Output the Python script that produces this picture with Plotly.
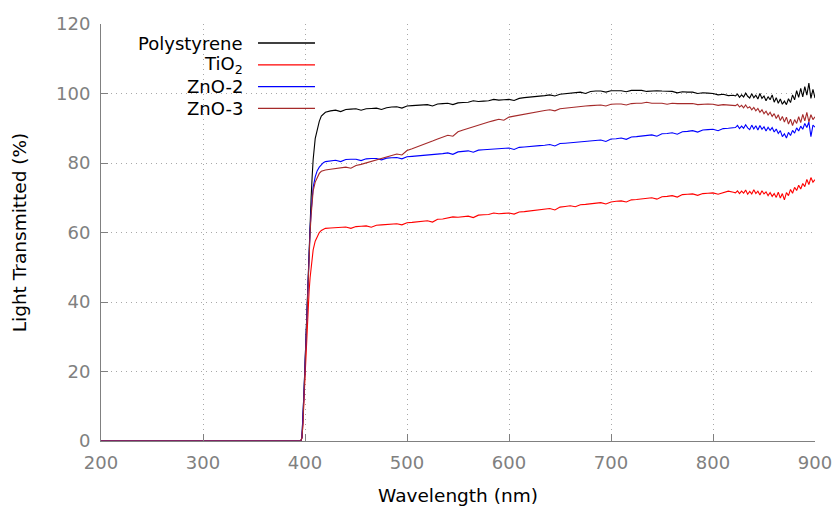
import plotly.graph_objects as go

# Wavelength sampling (nm): flat UV region, absorption edge, visible plateau, noisy red end
wl_uv = [200, 300, 390, 396]
wl_edge = [397, 398, 399, 400, 401, 402, 403, 404, 405, 406, 407, 408,
           410, 412, 414, 416, 418, 420, 425]
wl_mid = list(range(430, 821, 5))
wl_end = list(range(822, 901, 2))
wavelength = wl_uv + wl_edge + wl_mid + wl_end

polystyrene = (
    [0, 0, 0, 0]
    + [1, 6, 14, 22, 31, 40, 48, 56, 63, 70, 76, 81,
       87, 90, 92, 93.5, 94.2, 94.6, 95.0]
    + [95.2, 94.8, 95.4, 95.5, 95.6, 95.2, 95.6, 95.7, 95.8, 95.4,
       95.9, 96.1, 96.2, 95.8, 96.4, 96.5, 96.6, 96.7, 96.8, 96.4,
       97.0, 97.1, 97.2, 96.8, 97.3, 97.4, 97.5, 97.9, 97.7, 97.8,
       97.9, 98.3, 98.1, 98.2, 98.3, 98.0, 98.6, 98.8, 98.9, 99.0,
       99.2, 99.4, 99.6, 99.3, 99.8, 100.0, 100.1, 100.3, 100.4, 100.0,
       100.6, 100.7, 100.7, 100.4, 100.8, 100.8, 100.8, 100.5, 100.9, 100.9,
       100.9, 100.6, 100.8, 100.8, 100.7, 100.7, 100.6, 100.2, 100.5, 100.4,
       100.4, 100.0, 100.2, 100.1, 100.0, 99.6, 99.8, 99.4, 99.5]
    + [99.3, 99.8, 98.9, 99.6, 99.0, 100.1, 99.2, 98.7, 99.9, 98.8,
       99.5, 98.4, 100.0, 98.6, 99.3, 97.9, 99.1, 98.2, 99.6, 97.5,
       98.8, 97.2, 98.4, 96.9, 97.8, 96.8, 98.5, 97.4, 99.6, 98.2,
       100.8, 98.9, 101.5, 99.0, 102.0, 99.5, 103.0, 98.6, 101.2, 98.7]
)

tio2 = (
    [0, 0, 0, 0]
    + [1, 5, 12, 19, 26, 32, 38, 43, 47, 50.5, 53, 55,
       57.5, 59, 60, 60.6, 61.0, 61.2, 61.3]
    + [61.4, 61.5, 61.6, 61.2, 61.7, 61.8, 61.9, 61.5, 62.1, 62.2,
       62.3, 62.4, 62.5, 62.2, 62.8, 62.9, 63.1, 63.2, 63.4, 63.0,
       63.8, 63.9, 64.1, 64.5, 64.4, 64.5, 64.7, 64.3, 65.0, 65.1,
       65.2, 65.6, 65.4, 65.5, 65.6, 65.3, 65.9, 66.0, 66.2, 66.4,
       66.6, 66.7, 66.9, 66.5, 67.3, 67.5, 67.7, 67.4, 68.0, 68.1,
       68.3, 68.4, 68.6, 68.2, 68.8, 69.0, 69.1, 68.8, 69.4, 69.5,
       69.7, 69.8, 70.0, 69.6, 70.3, 70.4, 70.6, 70.2, 70.9, 71.0,
       71.1, 70.7, 71.2, 71.3, 71.4, 71.0, 71.5, 71.9, 71.6]
    + [71.4, 72.0, 71.2, 71.9, 71.3, 72.2, 71.0, 71.8, 71.1, 72.3,
       71.2, 71.9, 70.8, 72.0, 71.1, 71.7, 70.6, 71.5, 70.4, 71.2,
       70.1, 71.6, 69.9, 71.2, 69.4, 71.5, 70.6, 72.4, 71.3, 73.0,
       72.1, 73.6, 72.5, 74.1, 73.2, 75.3, 73.8, 75.8, 74.5, 75.2]
)

zno2 = (
    [0, 0, 0, 0]
    + [1, 6, 14, 22, 31, 40, 48, 55, 61, 66, 70, 73,
       76, 77.8, 78.8, 79.6, 80.1, 80.4, 80.6]
    + [80.8, 80.4, 81.0, 81.1, 81.1, 80.7, 81.2, 81.3, 81.3, 80.9,
       81.4, 81.5, 81.6, 81.2, 81.8, 81.9, 82.0, 82.1, 82.3, 82.4,
       82.6, 82.7, 82.9, 82.5, 83.2, 83.3, 83.5, 83.1, 83.7, 83.8,
       83.9, 84.0, 84.1, 84.2, 84.3, 83.9, 84.5, 84.6, 84.8, 84.9,
       85.0, 85.1, 85.3, 84.9, 85.6, 85.7, 85.8, 86.0, 86.1, 86.2,
       86.4, 86.5, 86.6, 86.2, 86.9, 87.0, 87.2, 86.8, 87.5, 87.6,
       87.8, 87.9, 88.1, 87.7, 88.4, 88.5, 88.7, 88.3, 89.0, 89.1,
       89.3, 88.9, 89.5, 89.6, 89.7, 89.3, 89.9, 90.0, 90.1]
    + [90.2, 90.8, 89.9, 90.6, 90.0, 91.0, 90.1, 89.6, 90.9, 89.8,
       90.7, 89.5, 90.8, 89.7, 90.4, 89.2, 90.3, 89.4, 90.2, 88.9,
       89.8, 88.5, 89.3, 87.6, 88.4, 87.2, 88.8, 87.9, 89.4, 88.6,
       90.1, 89.2, 90.6, 89.7, 91.4, 90.2, 91.8, 87.6, 90.9, 90.3]
)

zno3 = (
    [0, 0, 0, 0]
    + [1, 5, 13, 21, 30, 39, 47, 54, 60, 65, 69, 72,
       74.5, 76, 77, 77.6, 77.9, 78.0, 78.2]
    + [78.4, 78.6, 78.8, 78.5, 79.3, 79.6, 80.0, 80.4, 80.8, 81.2,
       81.6, 82.1, 82.6, 82.3, 83.6, 84.1, 84.6, 85.2, 85.8, 86.3,
       86.9, 87.5, 88.0, 87.7, 89.0, 89.5, 90.0, 90.4, 90.9, 91.4,
       91.8, 92.2, 92.6, 92.3, 93.2, 93.5, 93.8, 94.1, 94.4, 94.7,
       94.9, 95.1, 95.3, 95.0, 95.6, 95.8, 95.9, 96.1, 96.2, 96.4,
       96.5, 96.6, 96.7, 96.4, 96.9, 97.0, 97.0, 96.7, 97.1, 97.2,
       97.2, 97.5, 97.2, 97.2, 97.2, 96.9, 97.2, 97.1, 97.1, 97.1,
       97.1, 96.8, 97.0, 97.0, 96.9, 96.6, 96.8, 96.7, 96.6]
    + [96.5, 96.9, 96.1, 96.6, 95.9, 96.7, 95.8, 96.2, 95.3, 96.0,
       95.0, 95.7, 94.6, 95.3, 94.2, 94.9, 93.8, 94.6, 93.4, 94.2,
       92.8, 93.9, 92.2, 93.4, 91.8, 93.2, 91.2, 92.6, 90.8, 92.5,
       91.4, 93.3, 91.6, 94.0, 92.1, 94.6, 91.8, 93.9, 92.5, 93.3]
)

series_names = ["Polystyrene", "TiO<sub>2</sub>", "ZnO-2", "ZnO-3"]
series_values = [polystyrene, tio2, zno2, zno3]
series_colors = ["#000000", "#ff0000", "#0000ff", "#a52a2a"]

x_ticks = [200, 300, 400, 500, 600, 700, 800, 900]
y_ticks = [0, 20, 40, 60, 80, 100, 120]

FONT = "DejaVu Sans"
AXIS_GRAY = "#808080"

fig = go.Figure()
for name, vals, color in zip(series_names, series_values, series_colors):
    fig.add_trace(go.Scatter(
        x=wavelength, y=vals, mode="lines", name=name,
        line=dict(color=color, width=1.1), showlegend=False,
    ))

# Key in the upper-left corner: right-aligned label followed by a line sample
key_top = 0.9544
key_step = 0.0522
for i, (name, color) in enumerate(zip(series_names, series_colors)):
    ypos = key_top - i * key_step
    fig.add_annotation(
        xref="paper", yref="paper", x=0.2017, y=ypos,
        xanchor="right", yanchor="middle", text=name, showarrow=False,
        font=dict(family=FONT, size=18, color="#000000"),
    )
    fig.add_shape(
        type="line", xref="paper", yref="paper",
        x0=0.2199, x1=0.2997, y0=ypos, y1=ypos,
        line=dict(color=color, width=1.3),
    )

axis_common = dict(
    showline=True, linecolor=AXIS_GRAY, linewidth=1,
    ticks="inside", ticklen=7, tickcolor=AXIS_GRAY, tickwidth=1,
    showgrid=True, gridcolor="#a8a8a8", griddash="1px,4px", gridwidth=1,
    zeroline=False, mirror=False, automargin=False,
    tickfont=dict(family=FONT, size=18, color=AXIS_GRAY),
)

fig.update_layout(
    width=837, height=507,
    margin=dict(l=101, r=22, t=24, b=66),
    paper_bgcolor="white", plot_bgcolor="white",
    font=dict(family=FONT, size=18, color="#000000"),
    xaxis=dict(
        range=[200, 900], tickvals=x_ticks, ticklabelstandoff=5,
        title=dict(text="Wavelength (nm)", font=dict(family=FONT, size=18.5, color="#000000"), standoff=17),
        **axis_common,
    ),
    yaxis=dict(
        range=[0, 120], tickvals=y_ticks, ticklabelstandoff=6,
        title=dict(text="Light Transmitted (%)", font=dict(family=FONT, size=18.5, color="#000000"), standoff=24),
        **axis_common,
    ),
)

fig.write_html("out.html")
